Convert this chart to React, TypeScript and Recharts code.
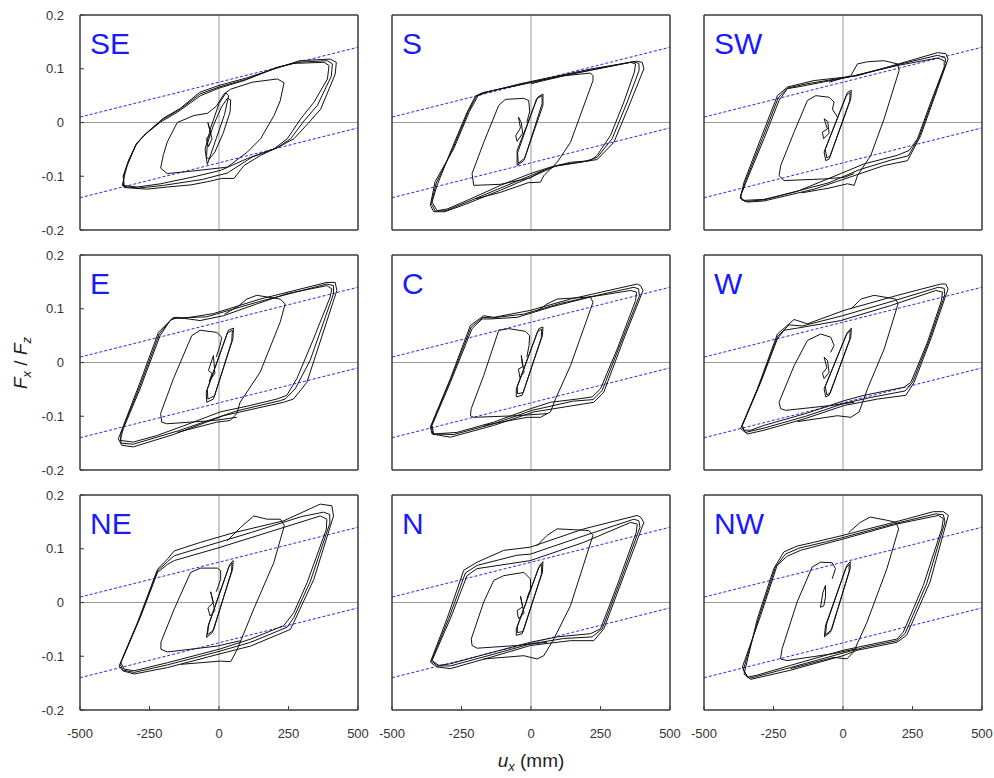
import React from "react";
import { LineChart, Line, XAxis, YAxis, ReferenceLine } from "recharts";

type Pt = [number, number];

// axis ticks
const xTicks = [-500, -250, 0, 250, 500];
const yTicks = [-0.2, -0.1, 0, 0.1, 0.2];

// design bound lines (same in every panel)
const boundUpper: Pt[] = [[-500, 0.01], [500, 0.14]];
const boundLower: Pt[] = [[-500, -0.14], [500, -0.01]];

// ---- SE ----
const seOuterA: Pt[] = [[-348,-0.117],[-338,-0.095],[-330,-0.08],[-300,-0.043],[-270,-0.024],[-210,0.001],[-150,0.019],[-66,0.05],[0,0.064],[90,0.078],[210,0.103],[270,0.11],[378,0.112],[396,0.106],[390,0.081],[342,0.038],[294,0.007],[246,-0.03],[198,-0.049],[102,-0.067],[6,-0.089],[-90,-0.101],[-210,-0.114],[-294,-0.12],[-348,-0.117]];
const seOuterB: Pt[] = [[-340,-0.121],[-345,-0.1],[-325,-0.07],[-295,-0.038],[-255,-0.017],[-200,0.008],[-140,0.026],[-70,0.056],[0,0.069],[100,0.083],[200,0.1],[290,0.115],[400,0.118],[422,0.112],[418,0.09],[366,0.025],[320,-0.002],[270,-0.03],[220,-0.044],[150,-0.061],[90,-0.08],[54,-0.104],[10,-0.104],[-40,-0.11],[-100,-0.116],[-186,-0.12],[-260,-0.124],[-340,-0.121]];
const seOuterC: Pt[] = [[-344,-0.119],[-342,-0.098],[-328,-0.075],[-298,-0.04],[-262,-0.02],[-205,0.005],[-145,0.023],[-68,0.053],[0,0.066],[95,0.08],[205,0.101],[280,0.112],[390,0.115],[408,0.109],[404,0.086],[354,0.032],[306,0.003],[258,-0.03],[210,-0.047],[120,-0.064],[30,-0.094],[-60,-0.106],[-200,-0.117],[-290,-0.122],[-344,-0.119]];
const seMid: Pt[] = [[-210,-0.085],[-200,-0.06],[-186,-0.036],[-150,0.0],[-90,0.013],[-42,0.017],[-10,0.03],[18,0.053],[42,0.062],[120,0.075],[210,0.081],[234,0.074],[220,0.04],[198,0.013],[150,-0.03],[102,-0.055],[30,-0.083],[-90,-0.09],[-186,-0.095],[-210,-0.085]];
const seSmall: Pt[] = [[-45,-0.065],[-42,-0.04],[-20,-0.005],[10,0.03],[30,0.045],[42,0.042],[40,0.02],[15,-0.02],[-15,-0.055],[-35,-0.068],[-45,-0.065]];
const seSmall2: Pt[] = [[-42,-0.078],[-50,-0.05],[-30,-0.01],[0,0.035],[25,0.055],[35,0.05],[20,0.015],[-10,-0.03],[-30,-0.06],[-42,-0.078]];
const seTiny: Pt[] = [[-40,0.0],[-30,-0.02],[-45,-0.03],[-38,-0.045],[-25,-0.03],[-40,0.0]];

// ---- S ----
const sOuterA: Pt[] = [[-338,-0.164],[-356,-0.148],[-338,-0.117],[-290,-0.055],[-230,0.019],[-200,0.049],[-176,0.055],[-50,0.069],[70,0.082],[214,0.097],[358,0.112],[376,0.109],[372,0.094],[334,0.038],[286,-0.024],[238,-0.061],[214,-0.071],[142,-0.074],[70,-0.083],[-2,-0.095],[-110,-0.117],[-230,-0.145],[-302,-0.161],[-338,-0.164]];
const sOuterB: Pt[] = [[-350,-0.166],[-362,-0.154],[-345,-0.11],[-278,-0.049],[-222,0.02],[-190,0.05],[-160,0.056],[-40,0.072],[80,0.085],[220,0.1],[380,0.114],[400,0.112],[406,0.1],[358,0.038],[298,-0.037],[238,-0.069],[170,-0.074],[94,-0.08],[-2,-0.102],[-110,-0.126],[-230,-0.151],[-310,-0.166],[-350,-0.166]];
const sOuterC: Pt[] = [[-344,-0.165],[-359,-0.151],[-341,-0.113],[-284,-0.052],[-226,0.02],[-195,0.05],[-168,0.056],[-45,0.07],[75,0.083],[217,0.098],[368,0.113],[388,0.11],[389,0.097],[346,0.038],[292,-0.03],[238,-0.065],[190,-0.073],[80,-0.082],[-2,-0.099],[-110,-0.122],[-230,-0.148],[-306,-0.164],[-344,-0.165]];
const sCross: Pt[] = [[-200,-0.142],[-110,-0.13],[-10,-0.112],[34,-0.111],[46,-0.099],[94,-0.074],[142,-0.037],[223,0.078],[223,0.087],[214,0.092],[120,0.087],[46,0.078],[0,0.072]];
const sMid: Pt[] = [[40,-0.09],[-2,-0.103],[-110,-0.115],[-206,-0.117],[-212,-0.095],[-170,-0.037],[-116,0.032],[-92,0.043],[-26,0.045],[-8,0.041],[-5,0.02],[-15,0.0]];
const sSmall: Pt[] = [[-50,-0.08],[-50,-0.052],[24,0.047],[43,0.053],[43,0.032],[-26,-0.071],[-50,-0.08]];
const sSmall2: Pt[] = [[-46,-0.076],[-48,-0.056],[20,0.044],[40,0.05],[40,0.035],[-22,-0.066],[-46,-0.076]];
const sTiny: Pt[] = [[-45,0.01],[-38,-0.01],[-55,-0.025],[-50,-0.035],[-30,-0.02],[-35,0.0],[-45,0.01]];

// ---- SW ----
const swOuterA: Pt[] = [[-362,-0.145],[-368,-0.136],[-344,-0.105],[-284,-0.03],[-230,0.041],[-200,0.063],[-164,0.066],[16,0.084],[196,0.106],[340,0.12],[364,0.115],[364,0.103],[316,0.038],[268,-0.03],[238,-0.052],[196,-0.061],[76,-0.077],[-8,-0.095],[-164,-0.128],[-284,-0.143],[-362,-0.145]];
const swOuterB: Pt[] = [[-344,-0.148],[-370,-0.141],[-356,-0.111],[-296,-0.03],[-236,0.05],[-200,0.066],[-104,0.078],[52,0.087],[220,0.112],[340,0.13],[370,0.128],[378,0.118],[340,0.063],[280,-0.024],[232,-0.071],[148,-0.08],[40,-0.099],[-104,-0.124],[-284,-0.146],[-344,-0.148]];
const swOuterC: Pt[] = [[-353,-0.147],[-369,-0.139],[-350,-0.108],[-290,-0.03],[-233,0.046],[-200,0.064],[-130,0.072],[34,0.086],[208,0.109],[340,0.125],[367,0.121],[371,0.11],[328,0.05],[274,-0.027],[235,-0.062],[172,-0.07],[58,-0.088],[-50,-0.112],[-284,-0.144],[-353,-0.147]];
const swCross: Pt[] = [[-150,-0.131],[-50,-0.122],[16,-0.114],[40,-0.117],[52,-0.099],[100,-0.061],[148,0.007],[202,0.097],[196,0.109],[148,0.115],[88,0.113],[52,0.109],[28,0.087],[-50,0.075]];
const swMid: Pt[] = [[40,-0.095],[4,-0.102],[-68,-0.105],[-212,-0.108],[-230,-0.099],[-224,-0.08],[-176,-0.018],[-128,0.041],[-98,0.05],[-50,0.047],[-32,0.038],[-38,0.025],[-20,0.01]];
const swSmall: Pt[] = [[-62,-0.071],[-68,-0.055],[16,0.056],[30,0.06],[28,0.044],[-50,-0.068],[-62,-0.071]];
const swSmall2: Pt[] = [[-58,-0.066],[-64,-0.05],[12,0.05],[26,0.056],[24,0.04],[-46,-0.062],[-58,-0.066]];
const swTiny: Pt[] = [[-68,0.007],[-56,-0.012],[-74,-0.018],[-70,-0.03],[-50,-0.02],[-55,0.002],[-68,0.007]];

// ---- E ----
const eOuterA: Pt[] = [[-356,-0.145],[-344,-0.123],[-284,-0.049],[-212,0.05],[-176,0.078],[-152,0.084],[-68,0.078],[16,0.087],[136,0.109],[244,0.128],[388,0.143],[406,0.137],[400,0.122],[340,0.044],[280,-0.03],[244,-0.061],[208,-0.068],[112,-0.08],[4,-0.092],[-128,-0.118],[-224,-0.136],[-308,-0.148],[-356,-0.145]];
const eOuterB: Pt[] = [[-350,-0.154],[-362,-0.142],[-284,-0.037],[-218,0.056],[-164,0.084],[-130,0.082],[-20,0.091],[148,0.118],[388,0.149],[418,0.149],[424,0.134],[316,-0.037],[268,-0.068],[232,-0.074],[16,-0.099],[-164,-0.134],[-308,-0.157],[-350,-0.154]];
const eOuterC: Pt[] = [[-353,-0.15],[-353,-0.132],[-284,-0.043],[-215,0.053],[-170,0.081],[-140,0.083],[-44,0.085],[142,0.113],[388,0.146],[412,0.143],[412,0.128],[328,0.004],[274,-0.049],[238,-0.068],[220,-0.071],[64,-0.09],[-146,-0.127],[-308,-0.152],[-353,-0.15]];
const eCross: Pt[] = [[-150,-0.13],[-8,-0.111],[40,-0.108],[64,-0.095],[76,-0.074],[148,-0.018],[220,0.075],[238,0.109],[220,0.118],[136,0.125],[100,0.118],[70,0.105],[20,0.09]];
const eMid: Pt[] = [[64,-0.102],[-20,-0.108],[-188,-0.114],[-206,-0.111],[-210,-0.095],[-164,-0.03],[-98,0.05],[-68,0.06],[-8,0.056],[10,0.047],[4,0.032],[-10,0.01]];
const eSmall: Pt[] = [[-44,-0.074],[-46,-0.055],[34,0.06],[52,0.064],[50,0.044],[-20,-0.068],[-44,-0.074]];
const eSmall2: Pt[] = [[-40,-0.068],[-42,-0.05],[30,0.055],[48,0.06],[46,0.04],[-16,-0.062],[-40,-0.068]];
const eTiny: Pt[] = [[-20,0.013],[-38,-0.015],[-25,-0.02],[-35,-0.035],[-15,-0.02],[-20,0.013]];

// ---- C ----
const cOuterA: Pt[] = [[-350,-0.133],[-356,-0.117],[-290,-0.037],[-212,0.063],[-176,0.081],[-146,0.081],[-50,0.084],[70,0.103],[214,0.122],[358,0.134],[380,0.131],[376,0.115],[310,0.025],[250,-0.049],[220,-0.064],[166,-0.068],[70,-0.074],[-2,-0.086],[-134,-0.111],[-266,-0.13],[-350,-0.133]];
const cOuterB: Pt[] = [[-356,-0.133],[-362,-0.12],[-290,-0.03],[-218,0.069],[-170,0.087],[-134,0.084],[-2,0.097],[142,0.118],[382,0.146],[394,0.143],[403,0.134],[334,0.044],[262,-0.055],[226,-0.074],[10,-0.092],[-134,-0.117],[-290,-0.139],[-356,-0.133]];
const cOuterC: Pt[] = [[-353,-0.133],[-359,-0.118],[-290,-0.033],[-215,0.066],[-173,0.084],[-140,0.083],[-26,0.09],[106,0.11],[370,0.14],[387,0.137],[390,0.124],[322,0.035],[256,-0.052],[223,-0.069],[150,-0.072],[4,-0.089],[-134,-0.114],[-278,-0.134],[-353,-0.133]];
const cCross: Pt[] = [[-170,-0.117],[-14,-0.102],[34,-0.102],[70,-0.092],[88,-0.068],[142,-0.006],[223,0.112],[214,0.122],[94,0.118],[58,0.109],[20,0.095]];
const cMid: Pt[] = [[58,-0.095],[-50,-0.099],[-206,-0.102],[-218,-0.099],[-215,-0.086],[-170,-0.024],[-116,0.06],[-80,0.063],[-20,0.058],[-5,0.05],[-7,0.032],[-15,0.01]];
const cSmall: Pt[] = [[-53,-0.064],[-53,-0.049],[28,0.063],[43,0.066],[41,0.05],[-32,-0.061],[-53,-0.064]];
const cSmall2: Pt[] = [[-49,-0.058],[-49,-0.045],[24,0.058],[39,0.062],[37,0.046],[-28,-0.056],[-49,-0.058]];
const cTiny: Pt[] = [[-35,0.013],[-30,-0.008],[-45,-0.012],[-40,-0.028],[-25,-0.018],[-35,0.013]];

// ---- W ----
const wOuterA: Pt[] = [[-356,-0.126],[-362,-0.117],[-296,-0.037],[-236,0.044],[-212,0.06],[-164,0.064],[-8,0.078],[172,0.106],[334,0.134],[358,0.131],[354,0.115],[304,0.038],[244,-0.037],[220,-0.046],[76,-0.061],[4,-0.071],[-128,-0.094],[-284,-0.117],[-332,-0.126],[-356,-0.126]];
const wOuterB: Pt[] = [[-344,-0.133],[-368,-0.123],[-308,-0.049],[-236,0.053],[-176,0.08],[-128,0.072],[4,0.097],[196,0.125],[352,0.146],[370,0.146],[378,0.137],[316,0.044],[256,-0.037],[226,-0.061],[124,-0.068],[4,-0.08],[-140,-0.105],[-284,-0.126],[-344,-0.133]];
const wOuterC: Pt[] = [[-350,-0.13],[-365,-0.12],[-302,-0.043],[-236,0.048],[-194,0.07],[-146,0.068],[-2,0.087],[184,0.115],[343,0.14],[364,0.138],[366,0.126],[310,0.041],[250,-0.037],[223,-0.053],[100,-0.065],[4,-0.076],[-134,-0.1],[-284,-0.122],[-350,-0.13]];
const wCross: Pt[] = [[-164,-0.11],[-20,-0.099],[28,-0.102],[58,-0.092],[88,-0.049],[148,0.025],[198,0.109],[190,0.118],[112,0.125],[64,0.118],[30,0.1]];
const wMid: Pt[] = [[40,-0.074],[-44,-0.08],[-206,-0.089],[-224,-0.086],[-230,-0.074],[-176,-0.006],[-128,0.041],[-80,0.053],[-44,0.047],[-32,0.032],[-44,0.019]];
const wSmall: Pt[] = [[-62,-0.064],[-68,-0.049],[16,0.056],[30,0.064],[28,0.047],[-50,-0.061],[-62,-0.064]];
const wSmall2: Pt[] = [[-58,-0.06],[-64,-0.045],[12,0.052],[26,0.06],[24,0.043],[-46,-0.057],[-58,-0.06]];
const wTiny: Pt[] = [[-68,0.01],[-58,-0.01],[-74,-0.02],[-68,-0.03],[-50,-0.018],[-56,0.004],[-68,0.01]];

// ---- NE ----
const neOuterA: Pt[] = [[-341,-0.124],[-353,-0.112],[-281,-0.025],[-221,0.056],[-185,0.071],[-161,0.078],[0,0.102],[173,0.13],[364,0.161],[388,0.155],[386,0.136],[317,0.037],[269,-0.019],[233,-0.043],[114,-0.068],[0,-0.087],[-185,-0.112],[-305,-0.127],[-341,-0.124]];
const neOuterB: Pt[] = [[-347,-0.127],[-359,-0.118],[-293,-0.037],[-221,0.062],[-185,0.081],[-161,0.096],[-66,0.112],[54,0.13],[233,0.152],[364,0.183],[406,0.18],[412,0.161],[341,0.043],[269,-0.037],[257,-0.05],[114,-0.081],[0,-0.096],[-185,-0.121],[-305,-0.133],[-347,-0.127]];
const neOuterC: Pt[] = [[-344,-0.126],[-356,-0.115],[-287,-0.031],[-221,0.059],[-185,0.076],[-161,0.087],[-33,0.107],[114,0.13],[298,0.16],[376,0.168],[398,0.164],[399,0.148],[329,0.04],[269,-0.028],[245,-0.046],[114,-0.074],[0,-0.091],[-185,-0.116],[-305,-0.13],[-344,-0.126]];
const neCross: Pt[] = [[-137,-0.115],[6,-0.109],[42,-0.11],[66,-0.087],[125,-0.012],[197,0.074],[235,0.143],[221,0.155],[173,0.155],[125,0.161],[78,0.14],[30,0.115]];
const neMid: Pt[] = [[78,-0.071],[-6,-0.081],[-185,-0.092],[-209,-0.087],[-209,-0.074],[-161,-0.012],[-102,0.056],[-66,0.064],[-6,0.064],[6,0.059],[6,0.043],[-10,0.02]];
const neSmall: Pt[] = [[-45,-0.065],[-39,-0.043],[39,0.071],[51,0.078],[49,0.062],[-24,-0.056],[-45,-0.065]];
const neSmall2: Pt[] = [[-42,-0.06],[-36,-0.04],[35,0.066],[47,0.073],[45,0.058],[-20,-0.052],[-42,-0.06]];
const neTiny: Pt[] = [[-30,0.02],[-20,0.0],[-40,-0.01],[-32,-0.025],[-15,-0.015],[-30,0.02]];

// ---- N ----
const nOuterA: Pt[] = [[-332,-0.117],[-356,-0.108],[-290,-0.03],[-230,0.05],[-194,0.063],[-2,0.078],[190,0.112],[358,0.149],[382,0.146],[379,0.131],[310,0.032],[250,-0.049],[214,-0.058],[94,-0.064],[-2,-0.074],[-134,-0.092],[-290,-0.114],[-332,-0.117]];
const nOuterB: Pt[] = [[-338,-0.12],[-362,-0.111],[-302,-0.03],[-242,0.06],[-194,0.075],[-98,0.097],[-2,0.103],[190,0.137],[382,0.162],[394,0.159],[406,0.149],[334,0.05],[262,-0.049],[226,-0.071],[142,-0.071],[-2,-0.08],[-146,-0.102],[-290,-0.123],[-338,-0.12]];
const nOuterC: Pt[] = [[-335,-0.118],[-359,-0.109],[-296,-0.03],[-236,0.055],[-194,0.069],[-50,0.088],[-2,0.09],[190,0.124],[370,0.155],[388,0.152],[392,0.14],[322,0.041],[256,-0.049],[220,-0.064],[118,-0.067],[-2,-0.077],[-140,-0.097],[-290,-0.118],[-335,-0.118]];
const nCross: Pt[] = [[-170,-0.105],[-26,-0.099],[22,-0.105],[46,-0.099],[82,-0.068],[142,-0.006],[223,0.125],[208,0.134],[94,0.137],[58,0.125],[20,0.105]];
const nMid: Pt[] = [[58,-0.074],[-50,-0.08],[-194,-0.085],[-212,-0.08],[-215,-0.068],[-170,0.001],[-134,0.041],[-98,0.05],[-26,0.056],[-2,0.044],[-2,0.025],[-15,0.008]];
const nSmall: Pt[] = [[-53,-0.061],[-53,-0.049],[31,0.069],[43,0.076],[41,0.056],[-32,-0.058],[-53,-0.061]];
const nSmall2: Pt[] = [[-49,-0.056],[-49,-0.045],[27,0.064],[39,0.071],[37,0.052],[-28,-0.054],[-49,-0.056]];
const nTiny: Pt[] = [[-38,0.012],[-30,-0.008],[-50,-0.015],[-45,-0.03],[-25,-0.02],[-38,0.012]];

// ---- NW ----
const nwOuterA: Pt[] = [[-344,-0.139],[-362,-0.12],[-296,-0.024],[-237,0.069],[-201,0.086],[-153,0.097],[0,0.118],[194,0.146],[343,0.162],[361,0.156],[355,0.137],[289,0.032],[217,-0.055],[194,-0.068],[110,-0.077],[0,-0.089],[-189,-0.117],[-308,-0.135],[-344,-0.139]];
const nwOuterB: Pt[] = [[-332,-0.143],[-356,-0.133],[-308,-0.03],[-249,0.063],[-213,0.094],[-165,0.105],[-105,0.112],[0,0.125],[182,0.149],[325,0.169],[361,0.169],[379,0.162],[313,0.038],[229,-0.061],[194,-0.074],[50,-0.089],[0,-0.099],[-189,-0.126],[-332,-0.143]];
const nwOuterC: Pt[] = [[-338,-0.141],[-359,-0.126],[-302,-0.027],[-243,0.066],[-207,0.09],[-159,0.101],[-60,0.113],[0,0.121],[188,0.147],[334,0.165],[361,0.163],[367,0.15],[301,0.035],[223,-0.058],[194,-0.071],[80,-0.083],[0,-0.094],[-189,-0.121],[-320,-0.139],[-338,-0.141]];
const nwCross: Pt[] = [[-189,-0.123],[-33,-0.102],[14,-0.105],[38,-0.092],[86,-0.037],[158,0.063],[200,0.137],[191,0.149],[158,0.153],[98,0.159],[62,0.149],[20,0.13]];
const nwMid: Pt[] = [[50,-0.086],[-33,-0.095],[-201,-0.108],[-225,-0.105],[-219,-0.086],[-165,0.001],[-111,0.066],[-81,0.075],[-39,0.074],[-27,0.063],[-39,0.044]];
const nwSmall: Pt[] = [[-67,-0.064],[-63,-0.043],[14,0.069],[26,0.076],[26,0.063],[-45,-0.055],[-67,-0.064]];
const nwSmall2: Pt[] = [[-63,-0.06],[-59,-0.04],[10,0.064],[22,0.071],[22,0.058],[-41,-0.051],[-63,-0.06]];
const nwTiny: Pt[] = [[-63,0.032],[-72,0.019],[-81,-0.009],[-69,-0.006],[-63,0.01],[-63,0.032]];

const panels = [
  { name: "SE", row: 0, col: 0, loops: [seOuterA, seOuterB, seOuterC, seMid, seSmall, seSmall2, seTiny] },
  { name: "S", row: 0, col: 1, loops: [sOuterA, sOuterB, sOuterC, sCross, sMid, sSmall, sSmall2, sTiny] },
  { name: "SW", row: 0, col: 2, loops: [swOuterA, swOuterB, swOuterC, swCross, swMid, swSmall, swSmall2, swTiny] },
  { name: "E", row: 1, col: 0, loops: [eOuterA, eOuterB, eOuterC, eCross, eMid, eSmall, eSmall2, eTiny] },
  { name: "C", row: 1, col: 1, loops: [cOuterA, cOuterB, cOuterC, cCross, cMid, cSmall, cSmall2, cTiny] },
  { name: "W", row: 1, col: 2, loops: [wOuterA, wOuterB, wOuterC, wCross, wMid, wSmall, wSmall2, wTiny] },
  { name: "NE", row: 2, col: 0, loops: [neOuterA, neOuterB, neOuterC, neCross, neMid, neSmall, neSmall2, neTiny] },
  { name: "N", row: 2, col: 1, loops: [nOuterA, nOuterB, nOuterC, nCross, nMid, nSmall, nSmall2, nTiny] },
  { name: "NW", row: 2, col: 2, loops: [nwOuterA, nwOuterB, nwOuterC, nwCross, nwMid, nwSmall, nwSmall2, nwTiny] },
];

const toPts = (arr: Pt[]) => arr.map(([x, y]) => ({ x, y }));

const FONT = "'Liberation Sans', Arial, sans-serif";
const PLOT_W = 278;
const PLOT_H = 215;
const AXIS_W = 60;
const TOP_PAD = 10;
const colLeft = [80, 392, 704];
const rowTop = [15, 255, 495];
const frame = "#3a3a3a";

function Panel({ p }: { p: (typeof panels)[number] }) {
  const showY = p.col === 0;
  const showX = p.row === 2;
  const left = colLeft[p.col];
  const top = rowTop[p.row];
  return (
    <div style={{ position: "absolute", left: left - AXIS_W, top: top - TOP_PAD }}>
      <LineChart
        width={AXIS_W + PLOT_W + 12}
        height={TOP_PAD + PLOT_H + 40}
        margin={{ top: TOP_PAD, right: 12, bottom: 0, left: 0 }}
      >
        <XAxis
          type="number"
          dataKey="x"
          domain={[-500, 500]}
          ticks={xTicks}
          height={40}
          tick={showX ? { fontSize: 13, fill: "#333", fontFamily: FONT } : false}
          tickSize={-4}
          tickMargin={23}
          axisLine={{ stroke: frame, strokeWidth: 1.5 }}
          tickLine={{ stroke: frame, strokeWidth: 1 }}
          allowDataOverflow
        />
        <YAxis
          type="number"
          dataKey="y"
          domain={[-0.2, 0.2]}
          ticks={yTicks}
          width={AXIS_W}
          tick={showY ? { fontSize: 13, fill: "#333", fontFamily: FONT } : false}
          tickFormatter={(v: number) => String(v)}
          tickSize={-4}
          tickMargin={20}
          axisLine={{ stroke: frame, strokeWidth: 1.5 }}
          tickLine={{ stroke: frame, strokeWidth: 1 }}
          allowDataOverflow
        />
        <ReferenceLine x={0} stroke="#9a9a9a" strokeWidth={1} />
        <ReferenceLine y={0} stroke="#9a9a9a" strokeWidth={1} />
        <ReferenceLine y={0.2} stroke={frame} strokeWidth={1.5} />
        <ReferenceLine x={500} stroke={frame} strokeWidth={1.5} />
        {[boundUpper, boundLower].map((b, i) => (
          <Line
            key={"b" + i}
            data={toPts(b)}
            dataKey="y"
            type="linear"
            stroke="#2424ff"
            strokeWidth={1}
            strokeDasharray="3 2"
            dot={false}
            isAnimationActive={false}
          />
        ))}
        {p.loops.map((loop, i) => (
          <Line
            key={"l" + i}
            data={toPts(loop)}
            dataKey="y"
            type="linear"
            stroke="#111"
            strokeWidth={1}
            dot={false}
            isAnimationActive={false}
          />
        ))}
      </LineChart>
      <div
        style={{
          position: "absolute",
          left: AXIS_W + 10,
          top: TOP_PAD + 14,
          fontFamily: FONT,
          fontSize: 30,
          lineHeight: "30px",
          color: "#1a1aff",
        }}
      >
        {p.name}
      </div>
    </div>
  );
}

export default function App() {
  return (
    <div style={{ position: "absolute", left: 0, top: 0, width: 994, height: 778, background: "#fff" }}>
      {panels.map((p) => (
        <Panel key={p.name} p={p} />
      ))}
      <div
        style={{
          position: "absolute",
          left: 22,
          top: 363,
          transform: "translate(-50%, -50%) rotate(-90deg)",
          fontFamily: FONT,
          fontSize: 19,
          whiteSpace: "nowrap",
          color: "#222",
        }}
      >
        <i>F</i>
        <sub style={{ fontSize: 13 }}><i>x</i></sub> / <i>F</i>
        <sub style={{ fontSize: 13 }}><i>z</i></sub>
      </div>
      <div
        style={{
          position: "absolute",
          left: 531,
          top: 762,
          transform: "translate(-50%, -50%)",
          fontFamily: FONT,
          fontSize: 19,
          whiteSpace: "nowrap",
          color: "#222",
        }}
      >
        <i>u</i>
        <sub style={{ fontSize: 13 }}><i>x</i></sub> (mm)
      </div>
    </div>
  );
}
